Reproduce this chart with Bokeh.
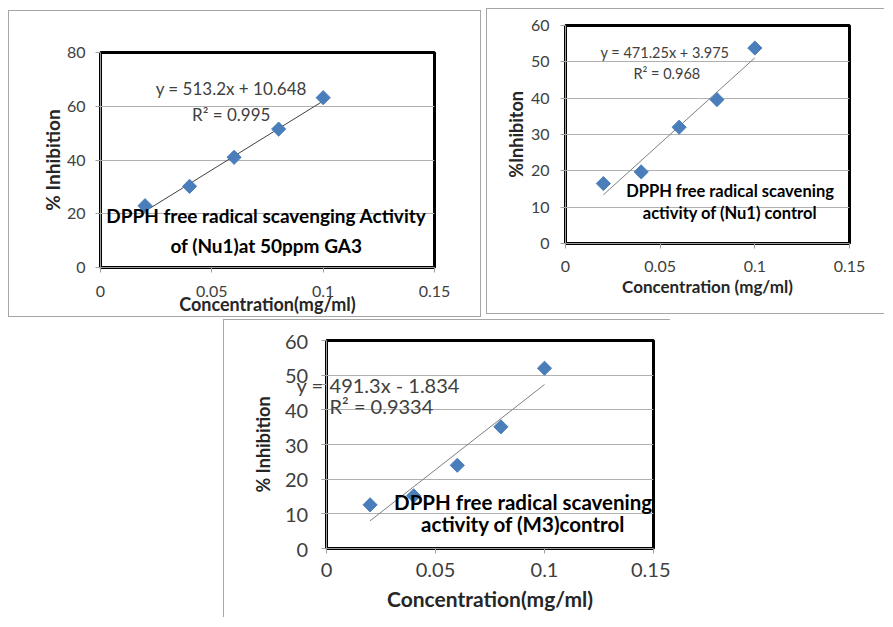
import numpy as np
from bokeh.plotting import figure
from bokeh.models import Range1d, Label, FixedTicker, Spacer, NumeralTickFormatter
from bokeh.layouts import row, column
from bokeh.embed import file_html
from bokeh.resources import INLINE

# ---- data ----
conc = [0.02, 0.04, 0.06, 0.08, 0.10]
inh_ga3 = [23.0, 30.2, 41.0, 51.5, 63.2]
inh_nu1 = [16.5, 19.7, 32.0, 39.6, 53.8]
inh_m3 = [12.6, 15.2, 24.0, 35.1, 52.0]

fit_ga3 = (513.2, 10.648)
fit_nu1 = (471.25, 3.975)
fit_m3 = (491.3, -1.834)

eq_ga3 = ["y = 513.2x + 10.648", "R² = 0.995"]
eq_nu1 = ["y = 471.25x + 3.975", "R² = 0.968"]
eq_m3 = ["y =", "491.3x - 1.834", "R² = 0.9334"]

title_ga3 = ["DPPH free radical scavenging Activity", "of (Nu1)at 50ppm GA3"]
title_nu1 = ["DPPH free radical scavening", "activity of (Nu1) control"]
title_m3 = ["DPPH free radical scavening", "activity of (M3)control"]

x_ticks = [0, 0.05, 0.1, 0.15]
y_ticks_ga3 = [0, 20, 40, 60, 80]
y_ticks_ctrl = [0, 10, 20, 30, 40, 50, 60]

FONT = "Lato"
MARKER = "#4A7EBB"


def panel(xs, ys, fit, yticks, ymax, fw, fh, mb, xlabel, ylabel, fs, xfs, yfs,
          styles, x_std, x_lab_std, y_std, y_lab_std, line_col):
    p = figure(frame_width=fw, frame_height=fh, output_backend="svg",
               toolbar_location=None, x_range=Range1d(0, 0.15),
               y_range=Range1d(0, ymax),
               min_border_left=mb[0], min_border_right=mb[1],
               min_border_top=mb[2], min_border_bottom=mb[3],
               styles=styles)
    p.outline_line_color = "black"
    p.outline_line_width = 3
    p.xgrid.grid_line_color = None
    p.ygrid.grid_line_color = "#b0b0b0"
    p.ygrid.grid_line_width = 1
    p.ygrid.ticker = FixedTicker(ticks=yticks)
    p.xaxis.ticker = FixedTicker(ticks=x_ticks)
    p.yaxis.ticker = FixedTicker(ticks=yticks)
    p.xaxis.formatter = NumeralTickFormatter(format="0.[00]")
    for ax in (p.xaxis, p.yaxis):
        ax.axis_line_color = "#a0a0a0"
        ax.major_tick_line_color = "#a0a0a0"
        ax.major_tick_out = 5
        ax.major_tick_in = 0
        ax.minor_tick_line_color = None
        ax.major_label_text_font = FONT
        ax.major_label_text_font_size = f"{fs}px"
        ax.major_label_text_color = "#404040"
        ax.axis_label_text_font = FONT
        ax.axis_label_text_font_style = "bold"
        ax.axis_label_text_color = "#262626"
    p.xaxis.axis_label_text_font_size = f"{xfs}px"
    p.yaxis.axis_label_text_font_size = f"{yfs}px"
    p.xaxis.major_label_standoff = x_std
    p.xaxis.axis_label_standoff = x_lab_std
    p.yaxis.major_label_standoff = y_std
    p.yaxis.axis_label_standoff = y_lab_std
    p.xaxis.axis_label = xlabel
    p.yaxis.axis_label = ylabel
    lx = np.array([xs[0], xs[-1]])
    p.line(lx, fit[0] * lx + fit[1], line_color=line_col, line_width=1)
    p.scatter(xs, ys, marker="square", angle=np.pi / 4, size=10,
              fill_color=MARKER, line_color=MARKER)
    return p


def add_text(p, x, y, txt, size, bold=False, color="#404040", align="center"):
    p.add_layout(Label(x=x, y=y, text=txt, text_font=FONT,
                       text_font_size=f"{size}px",
                       text_font_style="bold" if bold else "normal",
                       text_color=color, text_align=align,
                       text_baseline="middle", level="overlay"))


border = "1.5px solid #a6a6a6"

# Panel 1
p1 = panel(conc, inh_ga3, fit_ga3, y_ticks_ga3, 80, 332, 213, (91, 48, 41, 51),
           "Concentration(mg/ml)", "% Inhibition", 16, 18, 19,
           {"border": border}, 13, -7, 10, 0, "#404040")
add_text(p1, 0.0587, 66.5, eq_ga3[0], 17)
add_text(p1, 0.0587, 57.1, eq_ga3[1], 17)
add_text(p1, 0.0745, 19.2, title_ga3[0], 19, True, "black")
add_text(p1, 0.0745, 8.3, title_ga3[1], 19, True, "black")

# Panel 2
p2 = panel(conc, inh_nu1, fit_nu1, y_ticks_ctrl, 60, 283, 216, (78, 36, 16, 72),
           "Concentration (mg/ml)", "%Inhibiton", 16, 17, 18,
           {"border-left": border, "border-top": border, "border-bottom": border},
           12, 1, 11, 1, "#7f7f7f")
add_text(p2, 0.0525, 52.5, eq_nu1[0], 14.5)
add_text(p2, 0.0535, 46.7, eq_nu1[1], 14.5)
add_text(p2, 0.0869, 14.4, title_nu1[0], 16.5, True, "black")
add_text(p2, 0.0869, 8.3, title_nu1[1], 16.5, True, "black")

# Panel 3 -- the "y =" part of the equation sits left of the plot frame,
# so it is drawn as an extra y-axis tick label at the equation's height.
EQ_Y = 47.2
p3 = panel(conc, inh_m3, fit_m3, y_ticks_ctrl, 60, 326, 207, (102, 18, 20, 70),
           "Concentration(mg/ml)", "% Inhibition", 20, 21, 18,
           {"border-left": border, "border-top": border},
           9, 6, -2, 8, "#7f7f7f")
pad = "\u00a0" * 3
p3.yaxis.ticker = FixedTicker(ticks=sorted(y_ticks_ctrl + [EQ_Y]))
overrides = {t: f"{t}{pad}" for t in y_ticks_ctrl}
overrides[EQ_Y] = eq_m3[0]
p3.yaxis.major_label_overrides = overrides
add_text(p3, 0.0014, EQ_Y, eq_m3[1], 20, align="left")
add_text(p3, 0.0014, 41.2, eq_m3[2], 20, align="left")
add_text(p3, 0.0902, 13.3, title_m3[0], 20.5, True, "black")
add_text(p3, 0.0902, 7.0, title_m3[1], 20.5, True, "black")

layout = column(
    Spacer(height=8),
    row(Spacer(width=8), column(Spacer(height=2), p1), Spacer(width=5), p2),
    Spacer(height=2),
    row(Spacer(width=223), p3),
)

open("out.html", "w").write(file_html(layout, INLINE))
